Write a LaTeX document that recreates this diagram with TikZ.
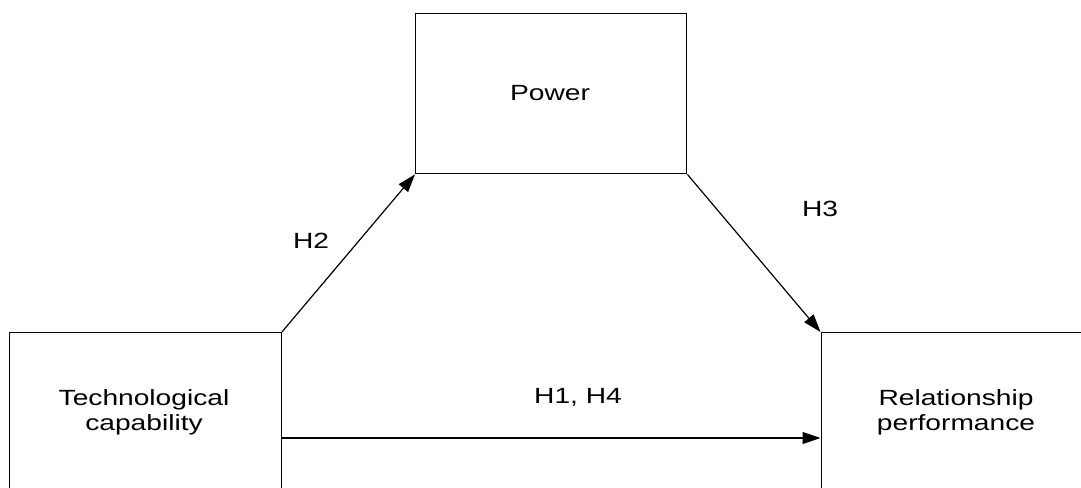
\documentclass[tikz,border=0pt]{standalone}
\usepackage{fontspec}
\newfontfamily\wide[FakeStretch=1.28]{Liberation Sans}
\usetikzlibrary{arrows.meta,calc}
\begin{document}
\begin{tikzpicture}[x=1pt,y=-1pt,
  box/.style={draw=black,line width=1.4pt,rectangle,inner sep=0pt},
  lbl/.style={font=\wide\fontsize{22}{25}\selectfont,align=center,inner sep=0pt},
  arr/.style={draw=black,line width=1.2pt,-{Triangle[length=18pt,width=12pt]}}]
\useasboundingbox (0,0) rectangle (1081,487);
\clip (0,0) rectangle (1081,487);
\fill[white] (0,0) rectangle (1081,487);
% boxes
\node[box,anchor=north west,minimum width=272pt,minimum height=300pt] (tc) at (8.5,332) {};
\node[box,anchor=north west,minimum width=400pt,minimum height=300pt] (rp) at (820.5,332) {};
\node[box,anchor=north west,minimum width=271pt,minimum height=160pt] (pw) at (415,13) {};
% texts
\node[lbl] (tctext) at (144,412) {Technological\\capability};
\node[lbl] (rptext) at (956,412) {Relationship\\performance};
\node[lbl] (pwtext) at (550,93) {Power};
% connectors
\coordinate (a1) at (280.5,438);
\draw[arr] (tc.north east) -- (pw.south west);
\draw[arr] (pw.south east) -- (rp.north west);
\draw[arr] (a1) -- (a1 -| rp.west);
% labels
\node[lbl] (h2) at (311,241) {H2};
\node[lbl] (h3) at (820,209) {H3};
\node[lbl] (h14) at (578,397) {H1, H4};
\end{tikzpicture}
\end{document}
